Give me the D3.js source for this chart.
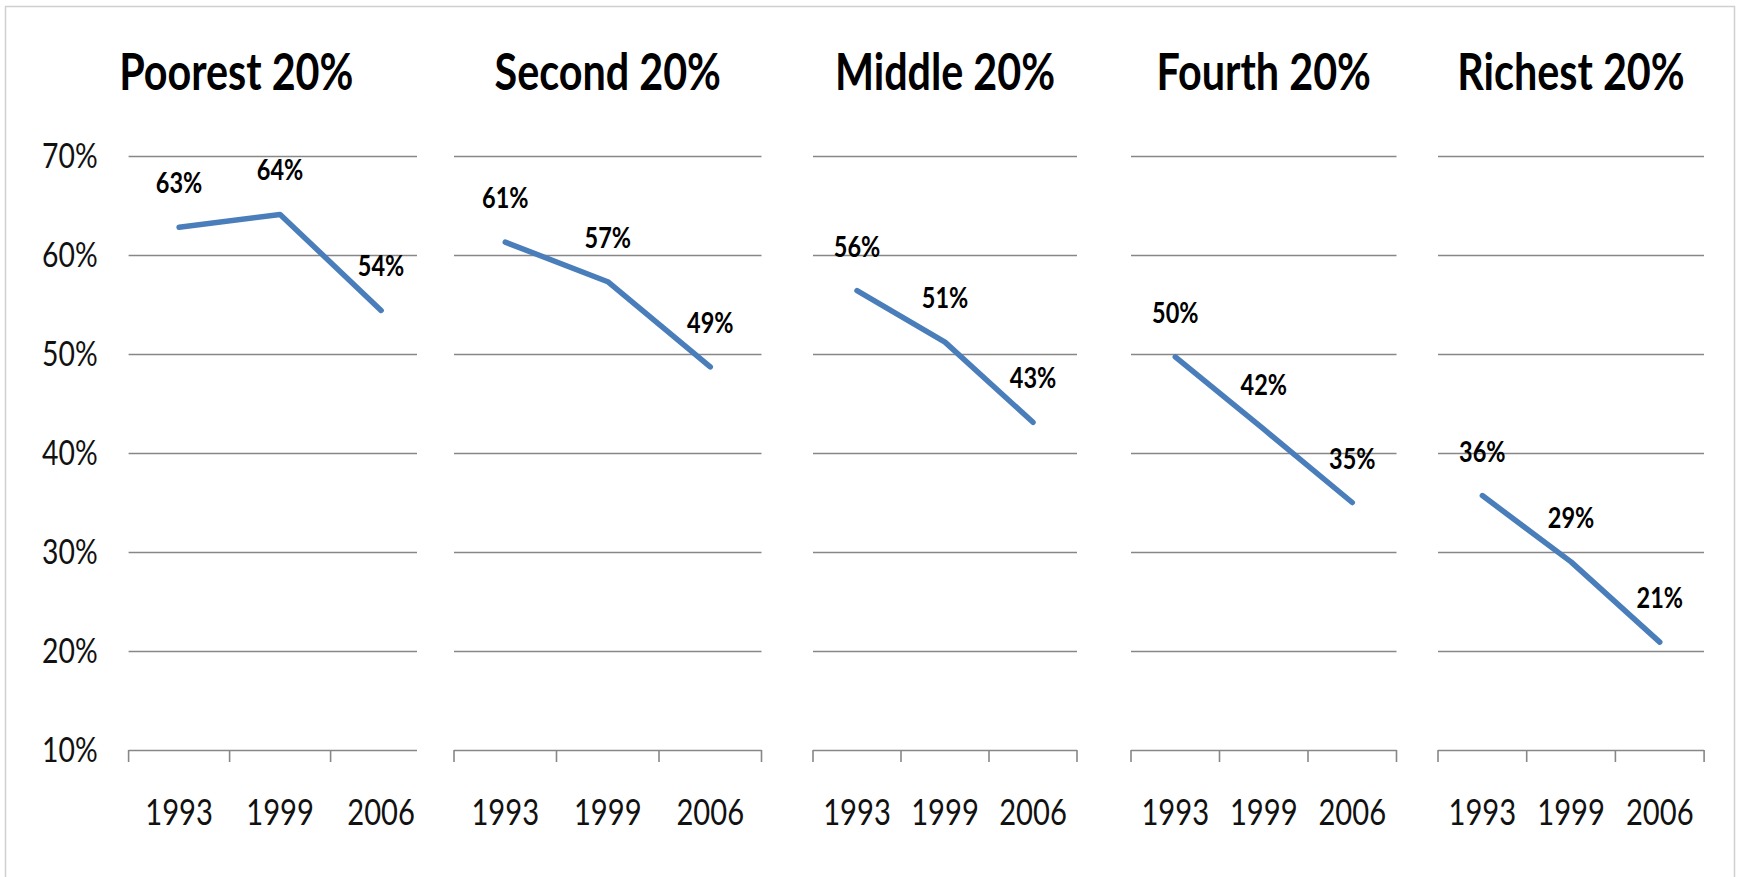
<!DOCTYPE html>
<html>
<head>
<meta charset="utf-8">
<script src="https://cdn.jsdelivr.net/npm/d3@7"></script>
<style>
  body { margin: 0; background: #fff; }
  svg { display: block; font-family: Lato, "Open Sans", sans-serif; }
</style>
</head>
<body>
<div id="chart"></div>
<script>
const width = 1740;
const height = 877;

// data (share of population, %)
const groups = ["Poorest 20%", "Second 20%", "Middle 20%", "Fourth 20%", "Richest 20%"];
const years = ["1993", "1999", "2006"];
const poorest = [62.8, 64.1, 54.4];
const second = [61.3, 57.3, 48.7];
const middle = [56.4, 51.2, 43.1];
const fourth = [49.7, 42.4, 35.0];
const richest = [35.7, 29.0, 20.9];
const yTicks = [10, 20, 30, 40, 50, 60, 70];

const series = [poorest, second, middle, fourth, richest];

// each small chart: left edge, band width, visible width (first one is clipped by the next)
const frames = [
    { x0: 128.6, bw: 101, vis: 288.4 },
    { x0: 454, bw: 102.5, vis: 307.5 },
    { x0: 813, bw: 88, vis: 264 },
    { x0: 1131, bw: 88.5, vis: 265.5 },
    { x0: 1438, bw: 88.7, vis: 266 }
];
const axisLeft = 41;
const sx = 0.81; // the original text is horizontally squeezed
const lineColor = "#4a7ebb";
const gridColor = "#878787";

const y = d3.scaleLinear().domain([10, 70]).range([750, 156]);

const svg = d3.select("#chart").append("svg")
    .attr("width", width)
    .attr("height", height);

svg.append("rect")
    .attr("x", 5.5).attr("y", 6.5)
    .attr("width", 1729).attr("height", 900)
    .attr("fill", "#fff")
    .attr("stroke", "#d0d0d0")
    .attr("stroke-width", 1.5);

function squeezedText(g, x, yy, txt) {
    return g.append("text")
        .attr("transform", `translate(${x},${yy}) scale(${sx},1)`)
        .text(txt);
}

frames.forEach((f, i) => {
    const x = d3.scaleBand().domain(years).range([f.x0, f.x0 + 3 * f.bw]);
    const xEnd = f.x0 + f.vis;
    const g = svg.append("g");

    // gridlines
    g.selectAll("line.grid").data(yTicks).join("line")
        .attr("class", "grid")
        .attr("x1", f.x0).attr("x2", xEnd)
        .attr("y1", d => Math.round(y(d)) + 0.5).attr("y2", d => Math.round(y(d)) + 0.5)
        .attr("stroke", gridColor)
        .attr("stroke-width", 1.6);

    // category tick marks at band edges
    const edges = d3.range(4).map(k => f.x0 + k * x.step()).filter(v => v <= xEnd + 0.5);
    g.selectAll("line.tick").data(edges).join("line")
        .attr("class", "tick")
        .attr("x1", d => d).attr("x2", d => d)
        .attr("y1", y(10)).attr("y2", y(10) + 12)
        .attr("stroke", gridColor)
        .attr("stroke-width", 1.6);

    // year labels
    years.forEach(yr => {
        squeezedText(g, x(yr) + x.bandwidth() / 2, 825, yr)
            .attr("text-anchor", "middle")
            .attr("font-size", 36)
            .attr("fill", "#111");
    });

    // title
    const cx = i === 0 ? (axisLeft + f.x0 + 3 * f.bw) / 2 : f.x0 + f.vis / 2;
    squeezedText(g, cx, 90, groups[i])
        .attr("text-anchor", "middle")
        .attr("font-size", 51)
        .attr("font-weight", 700)
        .attr("fill", "#000");

    // line
    const vals = series[i];
    const line = d3.line()
        .x((d, k) => x(years[k]) + x.bandwidth() / 2)
        .y(d => y(d));
    g.append("path")
        .datum(vals)
        .attr("d", line)
        .attr("fill", "none")
        .attr("stroke", lineColor)
        .attr("stroke-width", 5.5)
        .attr("stroke-linecap", "round")
        .attr("stroke-linejoin", "round");

    // data labels above the points
    vals.forEach((v, k) => {
        squeezedText(g, x(years[k]) + x.bandwidth() / 2, y(v) - 34, Math.round(v) + "%")
            .attr("text-anchor", "middle")
            .attr("font-size", 29)
            .attr("font-weight", 700)
            .attr("fill", "#000");
    });
});

// y axis labels on the first chart only
const ya = svg.append("g");
yTicks.forEach(t => {
    squeezedText(ya, 97.6, y(t) + 12, t + "%")
        .attr("text-anchor", "end")
        .attr("font-size", 35)
        .attr("fill", "#111");
});
</script>
</body>
</html>
